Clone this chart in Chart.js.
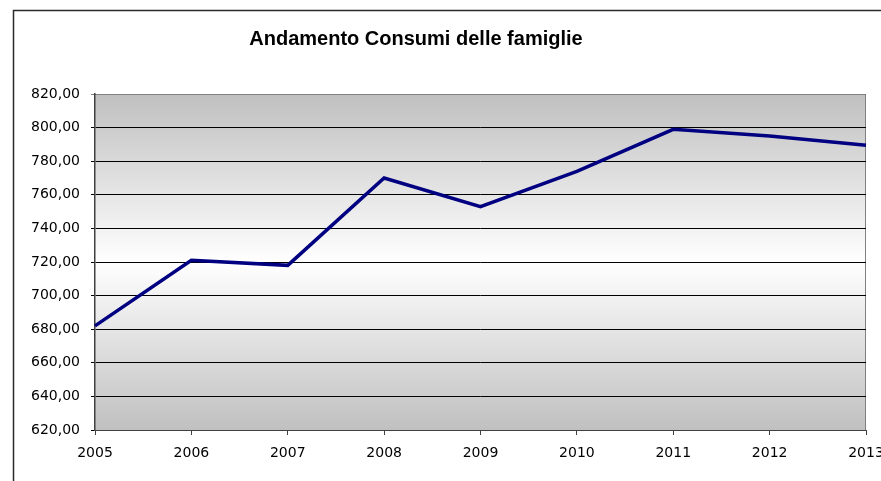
<!DOCTYPE html>
<html>
<head>
<meta charset="utf-8">
<script src="https://cdn.jsdelivr.net/npm/chart.js@4"></script>
<style>
  html, body { margin: 0; padding: 0; background: #fff; }
  #wrap { width: 881px; height: 481px; }
</style>
</head>
<body>
<div id="wrap"><canvas id="myChart" width="881" height="481"></canvas></div>
<script>
const TITLE = 'Andamento Consumi delle famiglie';
const YEARS = ['2005', '2006', '2007', '2008', '2009', '2010', '2011', '2012', '2013'];
const CONSUMI = [682, 721, 718, 770, 753, 774, 799, 795, 789.5];
const Y_MIN = 620;
const Y_MAX = 820;
const Y_STEP = 20;

let ctx = document.getElementById('myChart').getContext('2d');

// sfondo a gradiente, cornice esterna e titolo
const decorations = {
    id: 'decorations',
    beforeDraw(chart) {
        const c = chart.ctx;
        const a = chart.chartArea;
        c.save();
        // cornice (tagliata a destra e in basso)
        c.strokeStyle = '#2a2a2a';
        c.lineWidth = 1.5;
        c.beginPath();
        c.moveTo(13.5, 481);
        c.lineTo(13.5, 10.5);
        c.lineTo(881, 10.5);
        c.stroke();
        // area del grafico
        const g = c.createLinearGradient(0, a.top, 0, a.bottom);
        g.addColorStop(0, '#c0c0c0');
        g.addColorStop(0.5, '#ffffff');
        g.addColorStop(1, '#c0c0c0');
        c.fillStyle = g;
        c.fillRect(a.left, a.top, a.right - a.left, a.bottom - a.top);
        c.strokeStyle = '#808080';
        c.lineWidth = 1;
        c.beginPath();
        c.moveTo(a.left, a.top + 0.5);
        c.lineTo(a.right - 0.5, a.top + 0.5);
        c.lineTo(a.right - 0.5, a.bottom);
        c.stroke();
        // titolo
        c.fillStyle = '#000';
        c.font = 'bold 20px "Liberation Sans", Arial, sans-serif';
        c.textAlign = 'center';
        c.textBaseline = 'alphabetic';
        c.fillText(TITLE, 416, 45);
        c.restore();
    }
};

let chart = new Chart(ctx, {
    type: 'line',
    data: {
        labels: YEARS,
        datasets: [{
            label: 'Consumi',
            data: CONSUMI,
            borderColor: '#000080',
            borderWidth: 3.5,
            pointRadius: 0,
            tension: 0,
            fill: false
        }]
    },
    options: {
        responsive: false,
        animation: false,
        layout: { padding: { left: 0, right: 15, top: 94, bottom: 0 } },
        plugins: {
            legend: { display: false },
            tooltip: { enabled: false }
        },
        scales: {
            x: {
                offset: false,
                grid: {
                    drawOnChartArea: false,
                    drawTicks: true,
                    tickLength: 5,
                    color: '#404040'
                },
                border: { color: '#404040', width: 1 },
                ticks: {
                    color: '#000',
                    padding: 10,
                    maxRotation: 0,
                    autoSkip: false,
                    font: { family: '"DejaVu Sans"', size: 14 }
                },
                afterFit(scale) {
                    scale.height = 481 - 430;
                    scale.paddingLeft = 0;
                    scale.paddingRight = 0;
                }
            },
            y: {
                min: Y_MIN,
                max: Y_MAX,
                grid: {
                    color: (c) => (c.tick && c.tick.value === Y_MAX ? '#808080' : '#000'),
                    lineWidth: 1,
                    tickLength: 4
                },
                border: { color: '#404040', width: 1.5 },
                ticks: {
                    stepSize: Y_STEP,
                    color: '#000',
                    padding: 11,
                    font: { family: '"DejaVu Sans"', size: 14 },
                    callback: (v) => v.toFixed(2).replace('.', ',')
                },
                afterFit(scale) {
                    scale.width = 95;
                    scale.paddingTop = 0;
                    scale.paddingBottom = 0;
                }
            }
        }
    },
    plugins: [decorations]
});
</script>
</body>
</html>
